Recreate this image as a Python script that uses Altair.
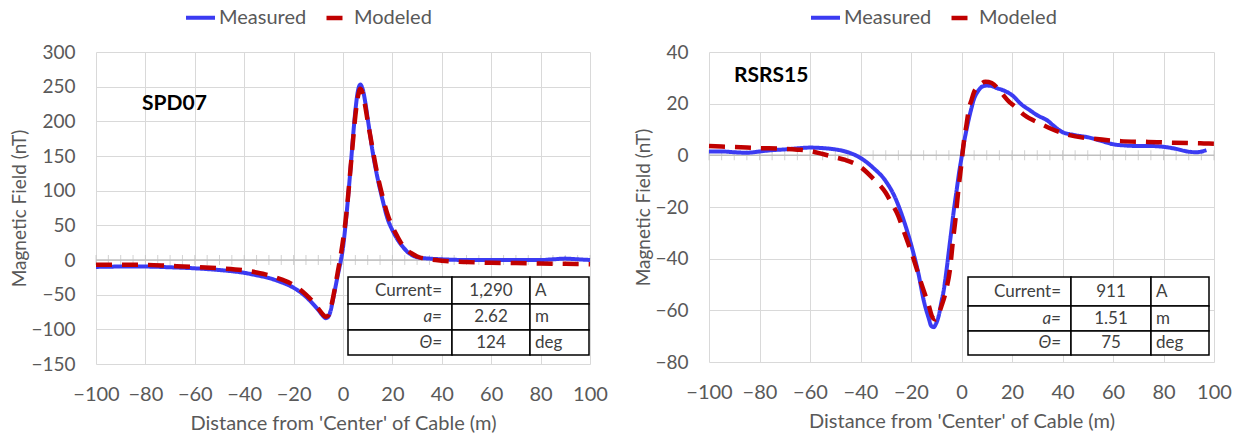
import altair as alt
import pandas as pd

# ---------------- data ----------------
# Left panel: SPD07
spd_meas_x = [-100, -90, -80, -70, -60, -50, -40, -35, -30, -25, -20, -15, -12, -10, -8, -7, -6, -5, -4, -3, -2, -1,
              0, 1, 2, 3, 4, 5, 6, 7, 8, 9, 10, 11, 12, 13, 14, 16, 18, 20, 22, 24, 26, 28, 30, 35, 40, 50, 60, 70,
              80, 85, 90, 95, 100]
spd_meas_y = [-10, -9.5, -9.5, -10.5, -12, -14.5, -18.5, -22, -26, -32, -40, -53, -64, -72, -81, -84, -82, -73, -56,
              -38, -20, -3, 18, 50, 88, 130, 175, 215, 243, 253, 246, 228, 204, 180, 156, 136, 118, 87, 60, 43, 30,
              20, 12, 7, 4, 2, 1, 0, 0, 0, 0, 1, 2, 1, 0]
spd_mod_x = [-100, -90, -80, -70, -60, -50, -40, -35, -30, -25, -20, -15, -12, -10, -8, -7, -6, -5, -4, -3, -2, -1,
             0, 1, 2, 3, 4, 5, 6, 7, 8, 9, 10, 11, 12, 13, 14, 16, 18, 20, 22, 24, 26, 28, 30, 35, 40, 50, 60, 70,
             80, 90, 100]
spd_mod_y = [-7, -7, -7, -8.5, -10, -12, -15, -18, -22, -28, -36, -50, -61, -70, -79, -82, -80, -70, -54, -35, -15,
             5, 28, 55, 90, 130, 170, 208, 235, 247, 240, 222, 200, 180, 160, 140, 122, 92, 66, 48, 34, 22, 14, 9, 5,
             1, -1, -3, -4, -4.5, -5, -5.5, -6]

# Right panel: RSRS15
rsrs_meas_x = [-100, -95, -90, -85, -80, -75, -70, -65, -60, -55, -50, -45, -40, -35, -30, -26, -24, -21, -19, -17,
               -15, -13, -12, -11, -10, -9, -8, -7, -6, -5, -4, -3, -2, -1, 0, 1, 2, 3, 4, 5, 6, 7, 8, 10, 12, 14,
               17, 20, 24, 27, 30, 34, 37, 40, 45, 50, 55, 60, 65, 70, 75, 80, 85, 90, 93, 97]
rsrs_meas_y = [1.5, 1.5, 1.2, 1, 1.5, 2, 2.3, 2.7, 3, 2.8, 2.3, 1.2, -1, -4.8, -10, -17, -22, -31, -38, -46, -56,
               -63, -66, -66.5, -65, -62, -57, -52, -45, -37, -29, -21, -14, -7, -1, 5, 10, 14.5, 18.5, 22, 24,
               25.5, 26.5, 27, 26.8, 26, 25, 23.3, 19.5, 17.5, 15.5, 13.5, 11, 9, 7.8, 7, 5.7, 4.3, 3.8, 3.6, 3.6,
               3.3, 2.5, 1.4, 1.2, 2]
rsrs_mod_x = [-100, -90, -85, -80, -72, -65, -60, -55, -50, -46, -40, -35, -30, -28, -25, -23, -19, -15.6, -13,
              -11.6, -10.5, -9.6, -8, -6.3, -4.4, -3.5, -2.4, -1.1, 0, 0.9, 2, 2.9, 4, 4.9, 7, 9.5, 12, 15.5, 18.8,
              21, 25, 30.7, 35, 42, 52.5, 63, 74, 84, 96, 100]
rsrs_mod_y = [3.6, 3.2, 3, 2.8, 2.6, 2.2, 1.7, 0.5, -0.8, -1.8, -4.5, -9, -14.5, -18, -23.5, -29, -40, -50.6, -58,
              -62.5, -63.5, -62.7, -58.5, -53, -42.8, -34, -24.8, -12, -3, 5, 12, 17.8, 21.5, 24.3, 27, 28.5, 28,
              24.5, 20.8, 19, 15.5, 12.5, 10.5, 8, 6.4, 5.5, 5.2, 4.9, 4.6, 4.5]

series_names = ["Measured", "Modeled"]
x_ticks = [-100, -80, -60, -40, -20, 0, 20, 40, 60, 80, 100]
minor_ticks = [-100, -95, -90, -85, -80, -75, -70, -65, -60, -55, -50, -45, -40, -35, -30, -25, -20, -15, -10, -5,
               0, 5, 10, 15, 20, 25, 30, 35, 40, 45, 50, 55, 60, 65, 70, 75, 80, 85, 90, 95, 100]
spd_y_ticks = [-150, -100, -50, 0, 50, 100, 150, 200, 250, 300]
rsrs_y_ticks = [-80, -60, -40, -20, 0, 20, 40]

table_labels = ["Current=", "a=", "\u0398="]
spd_table_values = ["1,290", "2.62", "124"]
rsrs_table_values = ["911", "1.51", "75"]
table_units = ["A", "m", "deg"]

# ---------------- styling ----------------
FONT = "Lato"
GREY = "#595959"
GRID = "#D9D9D9"
BLUE = "#3B3BF2"
RED = "#C00000"
X_TITLE = "Distance from 'Center' of Cable (m)"
Y_TITLE = "Magnetic Field (nT)"


def make_legend(legend_x):
    return alt.Legend(title=None, orient="none", legendX=legend_x, legendY=-51, direction="horizontal",
                      symbolType="stroke", symbolSize=841, symbolStrokeWidth=4, symbolDashOffset=-6,
                      labelFont=FONT, labelFontSize=20, labelColor=GREY, columnPadding=4, labelOffset=2)


def panel(name, mx, my, dx, dy, ydom, yticks, w, h, name_pos, table_values, legend_x, tbl_cols, tbl_rows):
    df = pd.concat([
        pd.DataFrame({"x": mx, "y": my, "series": "Measured", "order": 0}),
        pd.DataFrame({"x": dx, "y": dy, "series": "Modeled", "order": 1}),
    ])
    xs = alt.Scale(domain=[-100, 100], nice=False, zero=False)
    ys = alt.Scale(domain=ydom, nice=False, zero=False)
    xaxis = alt.Axis(values=x_ticks, title=X_TITLE, grid=True, gridColor=GRID, domain=False, ticks=False,
                     labelPadding=20, titlePadding=9, labelFlush=False, labelFontSize=20, titleFontSize=20)
    yaxis = alt.Axis(values=yticks, title=Y_TITLE, grid=True, gridColor=GRID, domain=False, ticks=False,
                     labelPadding=21, titlePadding=1, labelFontSize=19, titleFontSize=19)

    base = alt.Chart(df)
    zero = alt.Chart(pd.DataFrame({"z": [0]})).mark_rule(color="#BFBFBF", strokeWidth=1.5).encode(
        y=alt.Y("z:Q", scale=ys, axis=yaxis))
    ticks = alt.Chart(pd.DataFrame({"t": minor_ticks, "z": 0})).mark_tick(
        orient="vertical", size=10, thickness=1, color="#BFBFBF").encode(
        x=alt.X("t:Q", scale=xs, axis=xaxis), y=alt.Y("z:Q", scale=ys, axis=yaxis))
    lines = base.mark_line(interpolate="monotone").encode(
        x=alt.X("x:Q", scale=xs, axis=xaxis),
        y=alt.Y("y:Q", scale=ys, axis=yaxis),
        color=alt.Color("series:N", scale=alt.Scale(domain=series_names, range=[BLUE, RED]),
                        legend=make_legend(legend_x)),
        strokeDash=alt.StrokeDash("series:N", scale=alt.Scale(domain=series_names, range=[[1, 0], [16, 10]]),
                                  legend=make_legend(legend_x)),
        strokeWidth=alt.StrokeWidth("series:N", scale=alt.Scale(domain=series_names, range=[4, 4.5]),
                                    legend=None),
        detail="series:N",
        order="order:Q",
    )
    label = alt.Chart(pd.DataFrame({"t": [name]})).mark_text(
        align="left", baseline="middle", font=FONT, fontSize=21, fontWeight="bold", color="black").encode(
        text="t:N", x=alt.value(name_pos[0]), y=alt.value(name_pos[1]))

    layers = [zero, ticks, lines, label]
    # table cells
    for r in range(3):
        for c in range(3):
            layers.append(alt.Chart(pd.DataFrame({"k": [0]})).mark_rect(
                fill="white", stroke="black", strokeWidth=1.5).encode(
                x=alt.value(tbl_cols[c]), x2=alt.value(tbl_cols[c + 1]),
                y=alt.value(tbl_rows[r]), y2=alt.value(tbl_rows[r + 1])))
    for r in range(3):
        ymid = (tbl_rows[r] + tbl_rows[r + 1]) / 2
        cells = [
            (table_labels[r], "right", tbl_cols[1] - 10, "italic" if r > 0 else "normal"),
            (table_values[r], "center", (tbl_cols[1] + tbl_cols[2]) / 2, "normal"),
            (table_units[r], "left", tbl_cols[2] + 5, "normal"),
        ]
        for txt, al, xx, st in cells:
            layers.append(alt.Chart(pd.DataFrame({"t": [txt]})).mark_text(
                align=al, baseline="middle", font=FONT, fontSize=17, fontStyle=st, color="#404040").encode(
                text="t:N", x=alt.value(xx), y=alt.value(ymid)))

    return alt.layer(*layers).properties(width=w, height=h)


left = panel("SPD07", spd_meas_x, spd_meas_y, spd_mod_x, spd_mod_y, [-150, 300], spd_y_ticks, 494, 312,
             (46, 52), spd_table_values, 88, [252, 356, 434, 493], [225, 252, 278, 303])
right = panel("RSRS15", rsrs_meas_x, rsrs_meas_y, rsrs_mod_x, rsrs_mod_y, [-80, 40], rsrs_y_ticks, 505, 310,
              (25, 24), rsrs_table_values, 100, [259, 362, 442, 500], [225, 254, 279, 303])

chart = alt.hconcat(left, right, spacing=119, bounds="flush").resolve_scale(
    color="independent", strokeDash="independent", strokeWidth="independent", x="independent",
    y="independent").properties(
    padding={"left": 10, "top": 1, "right": 5, "bottom": 0}, background="white"
).configure_axis(
    labelFont=FONT, labelColor=GREY, titleFont=FONT, titleFontWeight="normal", titleColor=GREY
).configure_view(stroke=None)

chart.save("out.html", embed_options={"renderer": "svg", "actions": False})
